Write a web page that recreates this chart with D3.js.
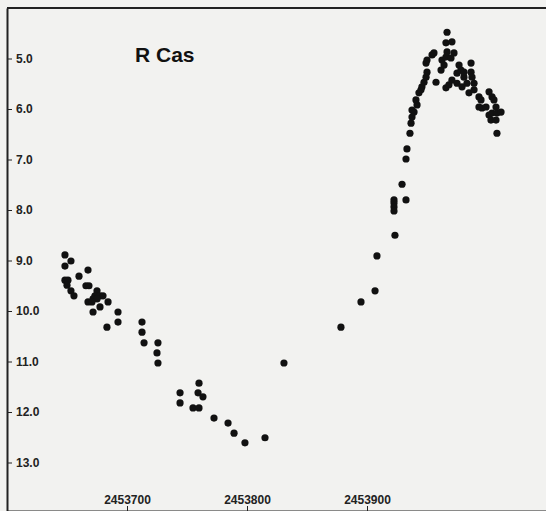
<!DOCTYPE html>
<html>
<head>
<meta charset="utf-8">
<script src="https://cdn.jsdelivr.net/npm/d3@7"></script>
<style>
  body { margin: 0; background: #f2f2f0; }
  svg { display: block; }
  .axis text { font-family: "Liberation Sans", Arial, sans-serif; font-size: 12px; font-weight: bold; fill: #222; }
  .axis path, .axis line { stroke: #222; }
</style>
</head>
<body>
<script>
// Julian dates of the observations
const jd = [
    2453648.3, 2453653.3, 2453648.3, 2453667.5, 2453660, 2453648.3, 2453650.8, 2453650,
    2453665.8, 2453668.3, 2453653.3, 2453655.8, 2453675, 2453673.3, 2453677.5, 2453680,
    2453671.7, 2453675, 2453667.5, 2453670.8, 2453684.2, 2453677.5, 2453671.7, 2453692.5,
    2453692.5, 2453683.3, 2453712.5, 2453712.5, 2453714.2, 2453725.8, 2453725, 2453725.8,
    2453744.2, 2453744.2, 2453760, 2453759.2, 2453763.3, 2453755, 2453760, 2453772.5,
    2453784.2, 2453789.2, 2453798.3, 2453815, 2453830.8, 2453878.3, 2453895, 2453906.7,
    2453908.3, 2453923.3, 2453922.5, 2453922.5, 2453922.5, 2453922.5, 2453932.5, 2453929.2,
    2453932.5, 2453933.3, 2453935.8, 2453936.7, 2453937.5, 2453939.2, 2453937.5, 2453941.7,
    2453940.8, 2453943.3, 2453945, 2453945.8, 2453947.5, 2453949.2, 2453950, 2453949.2,
    2453950, 2453954.2, 2453955.8, 2453957.5, 2453961.7, 2453964.2, 2453962.5, 2453965.8,
    2453966.7, 2453965.8, 2453970.8, 2453972.5, 2453970, 2453966.7, 2453965.8, 2453968.3,
    2453970.8, 2453975, 2453976.7, 2453978.3, 2453980.8, 2453980.8, 2453975, 2453979.2,
    2453983.3, 2453986.7, 2453986.7, 2453987.5, 2453985, 2453989.2, 2453989.2, 2453993.3,
    2453993.3, 2453995.8, 2453995, 2453999.2, 2454001.7, 2454004.2, 2454005.8, 2454001.7,
    2454004.2, 2454007.5, 2454008.3, 2454011.7, 2454003.3, 2454007.5, 2454008.3
];

// visual magnitudes, same order
const mag = [
    8.89, 9.01, 9.11, 9.19, 9.31, 9.39, 9.39, 9.49,
    9.50, 9.50, 9.60, 9.70, 9.60, 9.70, 9.70, 9.70,
    9.76, 9.76, 9.82, 9.82, 9.82, 9.92, 10.02, 10.02,
    10.22, 10.32, 10.22, 10.42, 10.63, 10.63, 10.83, 11.03,
    11.62, 11.82, 11.43, 11.62, 11.70, 11.92, 11.92, 12.12,
    12.22, 12.42, 12.61, 12.51, 11.03, 10.32, 9.82, 9.60,
    8.91, 8.50, 7.80, 7.86, 7.94, 8.02, 7.80, 7.49,
    6.99, 6.79, 6.48, 6.28, 6.16, 6.06, 6.02, 5.92,
    5.82, 5.68, 5.62, 5.56, 5.47, 5.37, 5.27, 5.09,
    5.03, 4.93, 4.89, 5.47, 5.23, 5.13, 5.03, 4.97,
    4.87, 4.69, 4.67, 4.89, 4.99, 4.48, 5.58, 5.52,
    5.43, 5.29, 5.13, 5.23, 5.37, 5.27, 5.49, 5.56,
    5.49, 5.09, 5.27, 5.37, 5.68, 5.62, 5.49, 5.76,
    5.96, 5.98, 5.82, 5.96, 5.66, 5.76, 5.82, 6.12,
    6.08, 5.96, 6.08, 6.06, 6.22, 6.22, 6.48
];

const magTicks = [5, 6, 7, 8, 9, 10, 11, 12, 13];
const jdTicks = [2453700, 2453800, 2453900];
const starName = "R Cas";

const width = 546, height = 511;

const svg = d3.select("body").append("svg")
    .attr("width", width)
    .attr("height", height);

// scales (magnitude axis is inverted: bright at top)
const x = d3.scaleLinear().domain([2453600, 2454050]).range([7, 547]);
const y = d3.scaleLinear().domain([4, 14]).range([8, 513]);

// top frame line
svg.append("line")
    .attr("x1", 7).attr("x2", width)
    .attr("y1", 8).attr("y2", 8)
    .attr("stroke", "#222").attr("stroke-width", 2);

// left axis, ticks point inward, labels inside the frame
const yAxis = svg.append("g")
    .attr("class", "axis")
    .attr("transform", "translate(7,0)")
    .call(d3.axisRight(y).tickValues(magTicks).tickFormat(d3.format(".1f"))
        .tickSize(5).tickSizeOuter(0).tickPadding(4));
yAxis.select(".domain").attr("stroke-width", 2);

// bottom axis, ticks point up, labels above
const xAxis = svg.append("g")
    .attr("class", "axis")
    .attr("transform", "translate(0,511)")
    .call(d3.axisTop(x).tickValues(jdTicks).tickFormat(d3.format("d"))
        .tickSize(5).tickSizeOuter(0).tickPadding(2));
xAxis.select(".domain").attr("stroke-width", 2);

// observations
svg.selectAll(".obs")
    .data(jd.map((d, i) => ({ jd: d, mag: mag[i] })))
    .enter().append("circle")
    .attr("class", "obs")
    .attr("cx", d => x(d.jd))
    .attr("cy", d => y(d.mag))
    .attr("r", 3.6)
    .attr("fill", "#111");

// star name
svg.append("text")
    .attr("x", 135)
    .attr("y", 62)
    .attr("font-family", "Liberation Sans, Arial, sans-serif")
    .attr("font-size", 21)
    .attr("font-weight", "bold")
    .attr("fill", "#111")
    .text(starName);
</script>
</body>
</html>
